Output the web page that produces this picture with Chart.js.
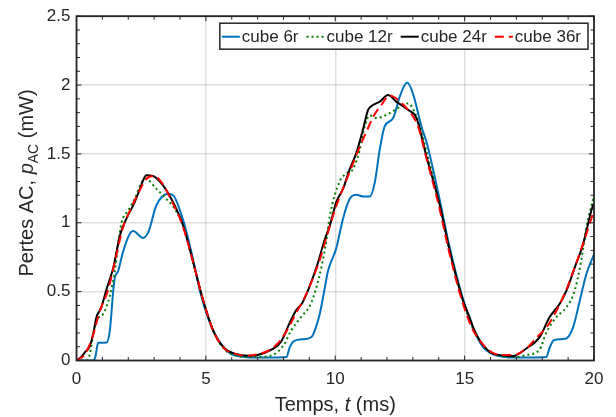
<!DOCTYPE html>
<html>
<head>
<meta charset="utf-8">
<script src="https://cdn.jsdelivr.net/npm/chart.js@4.4.1/dist/chart.umd.min.js"></script>
<style>
  html, body { margin: 0; padding: 0; background: #fff; }
  #wrap { width: 616px; height: 417px; }
</style>
</head>
<body>
<div id="wrap"><canvas id="lossChart" width="616" height="417"></canvas></div>
<script>
// Pertes AC (mW) vs temps (ms)
const labels = ['cube 6r', 'cube 12r', 'cube 24r', 'cube 36r'];
const xTicks = [0, 5, 10, 15, 20];
const yTicks = [0, 0.5, 1, 1.5, 2, 2.5];

const tBlue = [0, 0.62, 0.72, 0.84, 1.16, 1.29, 1.42, 1.48, 1.61, 1.8, 2.06, 2.19, 2.57, 2.77, 3.09, 3.54, 3.73, 4.12, 4.45, 4.77, 5.1, 5.34, 5.7, 6.0, 6.4, 7.0, 7.6, 8.11, 8.25, 8.4, 8.8, 9.08, 9.25, 9.4, 9.55, 9.72, 10.04, 10.3, 10.56, 10.82, 11.1, 11.33, 11.53, 11.72, 11.91, 12.24, 12.49, 12.78, 13.0, 13.33, 13.55, 14.0, 14.4, 14.9, 15.3, 15.7, 16.1, 16.5, 17.0, 17.6, 18.15, 18.3, 18.45, 18.93, 19.19, 19.45, 19.7, 20];
const pBlue = [0, 0, 0.02, 0.128, 0.13, 0.219, 0.505, 0.6, 0.65, 0.79, 0.92, 0.94, 0.89, 0.93, 1.127, 1.21, 1.2, 1.02, 0.78, 0.505, 0.3, 0.195, 0.09, 0.045, 0.028, 0.022, 0.022, 0.025, 0.1, 0.14, 0.155, 0.17, 0.24, 0.338, 0.48, 0.65, 0.816, 1.03, 1.174, 1.203, 1.19, 1.19, 1.294, 1.533, 1.70, 1.76, 1.915, 2.018, 1.94, 1.70, 1.57, 1.2, 0.84, 0.47, 0.25, 0.1, 0.045, 0.028, 0.022, 0.022, 0.025, 0.1, 0.147, 0.16, 0.24, 0.434, 0.625, 0.77];

const tGreen = [0, 0.4, 0.52, 0.65, 0.77, 1.03, 1.29, 1.48, 1.61, 1.74, 2.0, 2.25, 2.51, 2.67, 3.09, 3.47, 3.8, 4.12, 4.5, 4.9, 5.3, 5.7, 6.2, 6.8, 7.5, 8.0, 8.3, 8.67, 9.05, 9.37, 9.63, 9.79, 10.17, 10.45, 10.69, 10.95, 11.14, 11.33, 11.59, 12.04, 12.49, 12.81, 13.14, 13.55, 14.04, 14.43, 14.94, 15.33, 15.6, 16.0, 16.4, 17.0, 17.38, 17.9, 18.15, 18.54, 18.93, 19.25, 19.5, 19.7, 20];
const pGreen = [0, 0, 0.05, 0.2, 0.29, 0.338, 0.47, 0.65, 0.84, 1.0, 1.09, 1.174, 1.29, 1.32, 1.246, 1.174, 1.1, 0.98, 0.72, 0.434, 0.21, 0.085, 0.035, 0.025, 0.035, 0.11, 0.22, 0.314, 0.41, 0.60, 0.84, 1.05, 1.3, 1.36, 1.39, 1.533, 1.70, 1.78, 1.76, 1.79, 1.84, 1.867, 1.77, 1.5, 1.127, 0.792, 0.434, 0.23, 0.14, 0.06, 0.035, 0.025, 0.04, 0.08, 0.2, 0.314, 0.386, 0.505, 0.72, 0.96, 1.2];

const tBlack = [0, 0.15, 0.33, 0.5, 0.65, 0.77, 0.96, 1.16, 1.42, 1.68, 1.93, 2.25, 2.45, 2.7, 2.96, 3.35, 3.73, 4.12, 4.5, 4.9, 5.3, 5.73, 6.12, 6.63, 7.0, 7.5, 7.9, 8.22, 8.48, 8.73, 8.99, 9.31, 9.57, 9.79, 10.04, 10.3, 10.56, 10.82, 11.07, 11.27, 11.46, 11.72, 12.04, 12.36, 12.81, 13.14, 13.52, 14.04, 14.43, 14.94, 15.19, 15.33, 15.58, 15.96, 16.35, 16.87, 17.38, 17.9, 18.28, 18.67, 18.93, 19.25, 19.57, 19.96, 20];
const pBlack = [0, 0.02, 0.06, 0.1, 0.195, 0.314, 0.386, 0.517, 0.672, 0.91, 1.03, 1.15, 1.246, 1.346, 1.34, 1.27, 1.15, 0.98, 0.72, 0.434, 0.21, 0.087, 0.05, 0.035, 0.04, 0.075, 0.135, 0.266, 0.362, 0.42, 0.53, 0.697, 0.864, 0.98, 1.15, 1.246, 1.39, 1.509, 1.676, 1.82, 1.855, 1.88, 1.927, 1.88, 1.82, 1.76, 1.485, 1.127, 0.792, 0.434, 0.314, 0.24, 0.147, 0.064, 0.04, 0.033, 0.087, 0.17, 0.314, 0.41, 0.505, 0.672, 0.84, 1.127, 1.14];

const tRed = [0, 0.3, 0.6, 0.9, 1.2, 1.5, 1.8, 2.1, 2.4, 2.7, 3.0, 3.3, 3.7, 4.1, 4.5, 4.9, 5.3, 5.7, 6.1, 6.6, 7.0, 7.5, 7.9, 8.2, 8.5, 8.8, 9.1, 9.4, 9.7, 10.0, 10.3, 10.6, 10.9, 11.2, 11.5, 11.8, 12.1, 12.5, 12.9, 13.2, 13.5, 14.0, 14.4, 14.9, 15.3, 15.6, 16.0, 16.4, 16.9, 17.4, 17.8, 18.2, 18.6, 18.9, 19.3, 19.6, 20];
const pRed = [0, 0.04, 0.16, 0.36, 0.5, 0.73, 0.97, 1.1, 1.22, 1.32, 1.34, 1.29, 1.15, 0.98, 0.72, 0.434, 0.21, 0.09, 0.05, 0.035, 0.045, 0.08, 0.15, 0.24, 0.35, 0.45, 0.58, 0.73, 0.92, 1.1, 1.25, 1.39, 1.53, 1.66, 1.78, 1.86, 1.925, 1.88, 1.8, 1.7, 1.485, 1.127, 0.79, 0.434, 0.23, 0.14, 0.065, 0.04, 0.04, 0.09, 0.17, 0.25, 0.38, 0.5, 0.7, 0.86, 1.09];

const FONT = '"Liberation Sans", Arial, Helvetica, sans-serif';
const INK = '#262626';

function pts(ts, ps) {
    return ts.map((t, i) => ({ x: t, y: ps[i] }));
}

function series(label, ts, ps, color, dash, order) {
    return {
        label: label,
        data: pts(ts, ps),
        borderColor: color,
        borderWidth: 2,
        borderDash: dash,
        borderCapStyle: 'butt',
        pointRadius: 0,
        fill: false,
        cubicInterpolationMode: 'monotone',
        order: order
    };
}

// axes box, inward ticks, axis titles and the boxed legend
const framePlugin = {
    id: 'frame',
    afterDraw(chart) {
        const ctx = chart.ctx;
        const a = chart.chartArea;
        const xs = chart.scales.x, ys = chart.scales.y;
        ctx.save();

        ctx.strokeStyle = INK;
        ctx.lineWidth = 1.8;
        ctx.strokeRect(a.left, a.top, a.right - a.left, a.bottom - a.top);

        ctx.lineWidth = 1;
        ctx.beginPath();
        for (let v = 0; v <= 20; v++) {
            const px = xs.getPixelForValue(v);
            const len = v % 5 === 0 ? 5 : 3.5;
            ctx.moveTo(px, a.bottom); ctx.lineTo(px, a.bottom - len);
            ctx.moveTo(px, a.top); ctx.lineTo(px, a.top + len);
        }
        for (let k = 0; k <= 25; k++) {
            const py = ys.getPixelForValue(k / 10);
            const len = k % 5 === 0 ? 5 : 3.5;
            ctx.moveTo(a.left, py); ctx.lineTo(a.left + len, py);
            ctx.moveTo(a.right, py); ctx.lineTo(a.right - len, py);
        }
        ctx.stroke();

        // x title: Temps, t (ms)
        ctx.fillStyle = INK;
        ctx.textBaseline = 'alphabetic';
        const xParts = [['Temps, ', '20px ' + FONT], ['t', 'italic 20px ' + FONT], [' (ms)', '20px ' + FONT]];
        let w = 0;
        xParts.forEach(p => { ctx.font = p[1]; w += ctx.measureText(p[0]).width; });
        let cx = (a.left + a.right) / 2 - w / 2;
        xParts.forEach(p => { ctx.font = p[1]; ctx.fillText(p[0], cx, 411); cx += ctx.measureText(p[0]).width; });

        // y title: Pertes AC, p_AC (mW)
        const yParts = [['Pertes AC, ', '20px ' + FONT, 0], ['p', 'italic 20px ' + FONT, 0], ['AC', '14px ' + FONT, 5], [' (mW)', '20px ' + FONT, 0]];
        w = 0;
        yParts.forEach(p => { ctx.font = p[1]; w += ctx.measureText(p[0]).width; });
        ctx.translate(33, 183);
        ctx.rotate(-Math.PI / 2);
        cx = -w / 2;
        yParts.forEach(p => { ctx.font = p[1]; ctx.fillText(p[0], cx, p[2]); cx += ctx.measureText(p[0]).width; });
        ctx.setTransform(1, 0, 0, 1, 0, 0);
        ctx.restore();

        // legend
        ctx.save();
        ctx.font = '17px ' + FONT;
        const lineLen = 18, gapTxt = 2, gapItem = 8;
        const sets = chart.data.datasets;
        let total = 2;
        sets.forEach(d => { total += lineLen + gapTxt + ctx.measureText(d.label).width + gapItem; });
        total -= gapItem - 7;
        const boxR = a.right - 6, boxL = boxR - total, boxT = a.top + 7, boxB = boxT + 26;
        ctx.fillStyle = '#fff';
        ctx.fillRect(boxL, boxT, total, boxB - boxT);
        ctx.strokeStyle = INK;
        ctx.lineWidth = 1.5;
        ctx.strokeRect(boxL, boxT, total, boxB - boxT);
        let lx = boxL + 2;
        const ly = boxT + 13.5;
        sets.forEach(d => {
            ctx.strokeStyle = d.borderColor;
            ctx.lineWidth = d.borderWidth;
            ctx.setLineDash(d.borderDash || []);
            ctx.beginPath();
            ctx.moveTo(lx, ly); ctx.lineTo(lx + lineLen, ly);
            ctx.stroke();
            ctx.setLineDash([]);
            ctx.fillStyle = INK;
            ctx.textBaseline = 'middle';
            ctx.fillText(d.label, lx + lineLen + gapTxt, ly + 1);
            lx += lineLen + gapTxt + ctx.measureText(d.label).width + gapItem;
        });
        ctx.restore();
    }
};

const gridColor = 'rgba(38,38,38,0.15)';

new Chart(document.getElementById('lossChart').getContext('2d'), {
    type: 'line',
    data: {
        datasets: [
            series(labels[0], tBlue, pBlue, '#0072BD', [], 3),
            series(labels[1], tGreen, pGreen, '#008000', [2, 3], 2),
            series(labels[2], tBlack, pBlack, '#000000', [], 1),
            series(labels[3], tRed, pRed, '#FF0000', [9, 5], 0)
        ]
    },
    options: {
        responsive: false,
        animation: false,
        layout: { padding: { left: 0, top: 10, right: 22, bottom: 0 } },
        plugins: {
            legend: { display: false },
            tooltip: { enabled: false }
        },
        scales: {
            x: {
                type: 'linear',
                min: 0,
                max: 20,
                afterBuildTicks: s => { s.ticks = xTicks.map(v => ({ value: v })); },
                afterFit: s => { s.height = 56.5; },
                grid: { color: gridColor, lineWidth: 1.5, drawTicks: false },
                border: { display: false },
                ticks: { color: INK, font: { family: FONT, size: 17 }, padding: 9, maxRotation: 0, callback: v => String(v) }
            },
            y: {
                type: 'linear',
                min: 0,
                max: 2.5,
                afterBuildTicks: s => { s.ticks = yTicks.map(v => ({ value: v })); },
                afterFit: s => { s.width = 76.5; },
                grid: { color: gridColor, lineWidth: 1.5, drawTicks: false },
                border: { display: false },
                ticks: { color: INK, font: { family: FONT, size: 17 }, padding: 6, callback: v => String(v) }
            }
        }
    },
    plugins: [framePlugin]
});
</script>
</body>
</html>
